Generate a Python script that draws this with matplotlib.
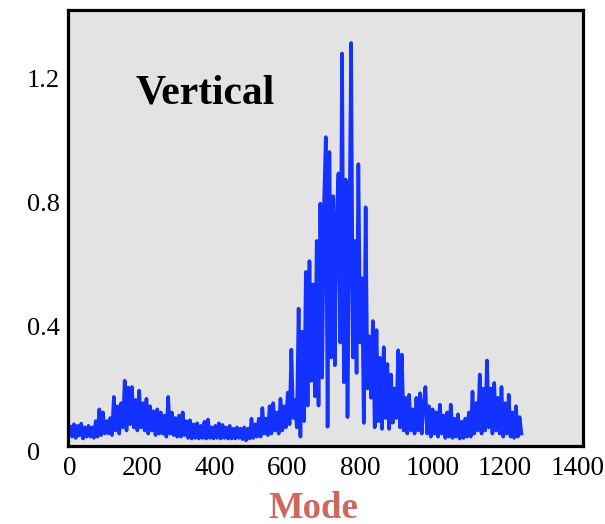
import matplotlib
matplotlib.use("Agg")
import matplotlib.pyplot as plt
from matplotlib.transforms import ScaledTranslation

# ---- data ----
mode_start, mode_stop, mode_step = 1, 1251, 5
values = [
    0.062, 0.030, 0.070, 0.026, 0.065, 0.034, 0.072, 0.024, 0.060, 0.030,
    0.065, 0.030, 0.060, 0.026, 0.080, 0.030, 0.118, 0.035, 0.108, 0.040,
    0.080, 0.040, 0.090, 0.035, 0.158, 0.050, 0.128, 0.040, 0.138, 0.060,
    0.210, 0.050, 0.188, 0.070, 0.190, 0.060, 0.148, 0.050, 0.178, 0.060,
    0.138, 0.050, 0.152, 0.040, 0.128, 0.050, 0.112, 0.035, 0.118, 0.040,
    0.108, 0.040, 0.098, 0.030, 0.158, 0.040, 0.108, 0.035, 0.090, 0.030,
    0.098, 0.030, 0.108, 0.035, 0.080, 0.026, 0.083, 0.024, 0.070, 0.026,
    0.073, 0.024, 0.065, 0.026, 0.078, 0.024, 0.085, 0.026, 0.060, 0.024,
    0.065, 0.026, 0.073, 0.024, 0.068, 0.026, 0.060, 0.024, 0.065, 0.024,
    0.056, 0.024, 0.060, 0.026, 0.056, 0.022, 0.060, 0.018, 0.056, 0.024,
    0.088, 0.026, 0.070, 0.030, 0.088, 0.030, 0.122, 0.040, 0.088, 0.035,
    0.128, 0.040, 0.138, 0.050, 0.108, 0.040, 0.152, 0.050, 0.128, 0.060,
    0.172, 0.070, 0.310, 0.090, 0.148, 0.060, 0.442, 0.030, 0.368, 0.080,
    0.560, 0.130, 0.595, 0.210, 0.520, 0.160, 0.660, 0.130, 0.780, 0.220,
    0.770, 0.994, 0.062, 0.946, 0.285, 0.804, 0.260, 0.740, 0.877, 0.333,
    1.263, 0.205, 0.857, 0.093, 0.650, 1.297, 0.285, 0.660, 0.235, 0.907,
    0.333, 0.540, 0.074, 0.768, 0.185, 0.353, 0.155, 0.402, 0.060, 0.373,
    0.080, 0.284, 0.055, 0.318, 0.090, 0.264, 0.055, 0.230, 0.075, 0.185,
    0.090, 0.308, 0.060, 0.294, 0.050, 0.155, 0.040, 0.165, 0.050, 0.118,
    0.040, 0.155, 0.050, 0.170, 0.040, 0.135, 0.190, 0.040, 0.128, 0.030,
    0.118, 0.040, 0.108, 0.030, 0.133, 0.040, 0.098, 0.026, 0.108, 0.030,
    0.133, 0.026, 0.088, 0.030, 0.102, 0.024, 0.078, 0.026, 0.088, 0.030,
    0.108, 0.030, 0.175, 0.040, 0.138, 0.050, 0.230, 0.040, 0.185, 0.050,
    0.275, 0.060, 0.185, 0.040, 0.203, 0.050, 0.155, 0.040, 0.190, 0.030,
    0.138, 0.040, 0.165, 0.030, 0.108, 0.026, 0.128, 0.030, 0.093, 0.040,
]
modes = list(range(mode_start, mode_stop, mode_step))

x_ticks = [0, 200, 400, 600, 800, 1000, 1200, 1400]
x_tick_labels = ["0", "200", "400", "600", "800", "1000", "1200", "1400"]
y_ticks = [0, 0.4, 0.8, 1.2]
y_tick_labels = ["0", "0.4", "0.8", "1.2"]
title_text = "Vertical"
xlabel_text = "Mode"

# ---- figure ----
plt.rcParams["font.family"] = ["Liberation Serif", "DejaVu Serif"]
W, H, DPI = 605, 524, 100
fig = plt.figure(figsize=(W / DPI, H / DPI), dpi=DPI)
ax = fig.add_axes([68 / W, 1 - 446 / H, (583 - 68) / W, (446 - 10) / H])
ax.set_facecolor("#e3e3e3")

ax.plot(modes, values, color="#1432ff", lw=2.6)

ax.set_xlim(-5.5, 1416)
ax.set_ylim(0, 1.403)

for s in ax.spines.values():
    s.set_linewidth(2.3)
    s.set_color("black")

ax.set_xticks(x_ticks)
ax.set_xticklabels(x_tick_labels, fontsize=19.5)
ax.set_yticks(y_ticks)
ax.set_yticklabels(y_tick_labels, fontsize=19)
ax.tick_params(axis="both", length=0)
ax.tick_params(axis="x", pad=7)
ax.tick_params(axis="y", pad=29.5)
for lab in ax.get_yticklabels():
    lab.set_horizontalalignment("left")
    lab.set_transform(lab.get_transform() + ScaledTranslation(0, -5 / DPI, fig.dpi_scale_trans))

fig.text(135 / W, 1 - 104 / H, title_text, fontsize=30, fontweight="bold",
         ha="left", va="baseline")
fig.text(313 / W, 1 - 508 / H, xlabel_text, fontsize=26.5, fontweight="bold",
         color="#cf675e", ha="center", va="center")

fig.savefig("out.png", dpi=DPI)
